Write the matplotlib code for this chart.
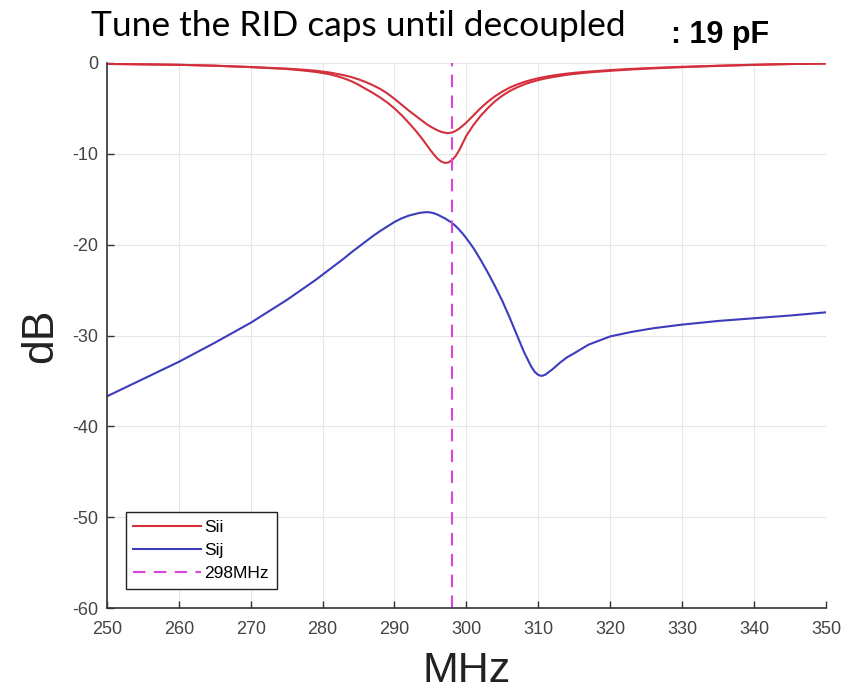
import numpy as np
import matplotlib
matplotlib.use("Agg")
import matplotlib.pyplot as plt

plt.rcParams["font.family"] = "Liberation Sans"
plt.rcParams["axes.unicode_minus"] = False

# frequency points (MHz) and S-parameter magnitudes (dB)
freq = [250, 255, 260, 265, 270, 275,
        277, 279,
        280, 281, 282, 283, 284, 285, 286, 287, 288, 289, 290, 291, 292,
        293, 293.5, 294, 294.5, 295, 295.5, 296, 296.5, 297, 297.5, 298, 298.5, 299, 299.5,
        300, 301, 302, 303, 304, 305, 306, 307, 308, 309,
        309.5, 310, 310.5, 311,
        312, 313, 314, 315,
        317, 320, 323, 326, 330, 335, 340, 345, 350]

sii_a = [-0.1, -0.15, -0.2, -0.3, -0.45, -0.62,
         -0.72, -0.85,
         -0.95, -1.05, -1.2, -1.35, -1.55, -1.8, -2.1, -2.45, -2.85, -3.35, -3.95, -4.6, -5.25,
         -5.85, -6.15, -6.45, -6.75, -7.0, -7.22, -7.42, -7.58, -7.68, -7.72, -7.65, -7.48, -7.22, -6.9,
         -6.55, -5.75, -4.95, -4.25, -3.65, -3.15, -2.72, -2.38, -2.1, -1.87,
         -1.77, -1.68, -1.6, -1.52,
         -1.38, -1.27, -1.17, -1.08,
         -0.95, -0.78, -0.65, -0.54, -0.42, -0.3, -0.19, -0.11, -0.05]

sii_b = [-0.1, -0.15, -0.2, -0.3, -0.45, -0.66,
         -0.8, -0.98,
         -1.1, -1.25, -1.45, -1.7, -2.0, -2.4, -2.85, -3.3, -3.8, -4.35, -5.0, -5.75, -6.6,
         -7.5, -8.0, -8.5, -9.05, -9.6, -10.1, -10.55, -10.85, -11.0, -10.95, -10.7, -10.25, -9.6, -8.8,
         -8.0, -6.8, -5.8, -4.95, -4.2, -3.6, -3.1, -2.7, -2.37, -2.1,
         -1.99, -1.88, -1.79, -1.7,
         -1.55, -1.42, -1.3, -1.2,
         -1.04, -0.86, -0.71, -0.59, -0.46, -0.32, -0.21, -0.12, -0.06]

sij = [-36.7, -34.8, -32.9, -30.8, -28.6, -26.1,
       -25.0, -23.9,
       -23.3, -22.7, -22.1, -21.5, -20.85, -20.25, -19.65, -19.05, -18.5, -18.0, -17.5, -17.1, -16.8,
       -16.6, -16.5, -16.45, -16.42, -16.45, -16.55, -16.7, -16.9, -17.1, -17.35, -17.6, -17.95, -18.35, -18.8,
       -19.3, -20.4, -21.7, -23.1, -24.6, -26.2, -28.0, -29.9, -31.8, -33.4,
       -34.0, -34.35, -34.45, -34.3,
       -33.7, -33.0, -32.4, -31.95,
       -31.0, -30.1, -29.6, -29.2, -28.8, -28.4, -28.1, -27.8, -27.45]

f_marker = 298
x_ticks = list(range(250, 351, 10))
y_ticks = list(range(-60, 1, 10))

red = "#d42f3c"
blue = "#3c3cbc"
magenta = "#dd44dd"
tick_gray = "#444444"

fig = plt.figure(figsize=(8.55, 6.96), dpi=100)
ax = fig.add_axes([0.125, 0.1264, 0.841, 0.7831])

ax.plot(freq, sii_a, color=red, lw=1.5, label="Sii")
ax.plot(freq, sii_b, color=red, lw=1.5)
ax.plot(freq, sij, color=blue, lw=1.5, label="Sij")
ax.axvline(f_marker, color=magenta, lw=1.5, dashes=(6, 4), label="298MHz")

ax.set_xlim(250, 350)
ax.set_ylim(-60, 0)
ax.set_xticks(x_ticks)
ax.set_yticks(y_ticks)
ax.grid(True, color="#e6e6e6", lw=0.8)
ax.set_axisbelow(True)

for s in ["top", "right"]:
    ax.spines[s].set_visible(False)
for s in ["left", "bottom"]:
    ax.spines[s].set_color("#333333")
    ax.spines[s].set_linewidth(1.2)
ax.tick_params(direction="in", length=5, width=1, colors="#333333",
               labelcolor=tick_gray, labelsize=13)
ax.tick_params(axis="x", pad=9)
ax.tick_params(axis="y", pad=6)

ax.set_xlabel("MHz", fontsize=31, color="#222222", labelpad=10)
ax.set_ylabel("dB", fontsize=32, color="#222222", labelpad=8)

leg = ax.legend(loc="lower left", bbox_to_anchor=(0.026, 0.035), fancybox=False,
                edgecolor="#222222", framealpha=1, handlelength=3.9, handletextpad=0.2,
                borderpad=0.45, labelspacing=0.45, borderaxespad=0, fontsize=12.5)
leg.get_frame().set_linewidth(1.0)

fig.text(0.106, 0.948, "Tune the RID caps until decoupled", fontsize=25.5,
         family="Lato", color="black", va="baseline", ha="left")
fig.text(0.785, 0.938, ": 19 pF", fontsize=22,
         weight="bold", color="black", va="baseline", ha="left")

fig.savefig("out.png", dpi=100)
